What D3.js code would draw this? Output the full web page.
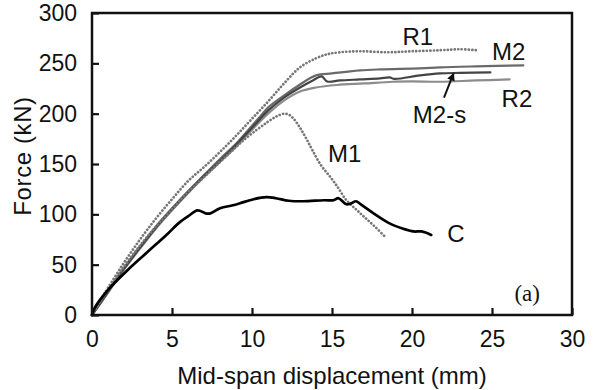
<!DOCTYPE html>
<html>
<head>
<meta charset="utf-8">
<script src="https://cdn.jsdelivr.net/npm/d3@7"></script>
<style>
  body { margin: 0; background: #fff; }
  text { font-family: "Liberation Sans", Arial, sans-serif; fill: #111; }
</style>
</head>
<body>
<script>
// data (displacement mm, force kN)
var xTicks = [0, 5, 10, 15, 20, 25, 30];
var yTicks = [0, 50, 100, 150, 200, 250, 300];

var curveC = [[0,0],[0.17,7],[0.5,15],[1,25],[2.25,45],[3.5,63],[4.75,81],[5.4,91],[6,98],[6.6,104],[7.1,101],[7.4,101],[8,106],[8.8,109],[9.25,111],[10.1,115],[10.9,117],[11.5,116],[12.3,113.5],[13.2,113],[14.5,114],[15.1,114],[15.4,116],[15.9,110],[16.2,111],[16.5,113],[16.8,110],[17.6,101],[18.6,91],[19.4,86],[20.1,83],[20.6,83],[21.2,79.5]];
var curveM1 = [[0,0],[0.5,13],[1,25],[2,48],[3,69],[4,88],[5,105],[6,122],[7,137],[8,152],[8.8,164],[9.5,174],[10.3,184],[11,192],[11.5,197],[12,200],[12.3,199],[12.6,195],[13,186],[13.4,175],[13.8,163],[14.3,149],[14.9,137],[15.4,126],[15.9,114],[16.5,105],[17,97.6],[17.6,89],[18.3,78]];
var curveR1 = [[0,0],[0.5,14],[1,27],[2,52],[3,75],[4,96],[5,115],[6,133],[7,147],[8,162],[9,178],[10,195],[11,212],[12,230],[13,246],[14,255],[14.7,259],[15.5,261],[16.75,262],[18.5,261],[20,262],[21.75,263],[23,264],[24.1,263]];
var curveM2 = [[0,0],[0.5,12],[1,24],[2,47],[3,68],[4,88],[5,106],[6,123],[7,139],[8,155],[9,170],[10,188],[10.5,197],[11,206],[12,218],[13,229],[14,238],[15,240],[16.75,243],[18,244],[20.5,245],[21.75,246],[24,247],[26.96,248]];
var curveM2s = [[0,0],[0.5,11],[1,23],[2,46],[3,67],[4,87],[5,105],[6,122],[7,138],[8,153],[9,169],[10,186],[11,203],[12,216],[13,226],[13.8,233],[14.35,237],[14.7,232],[15.5,233],[16.75,234],[18,235],[18.6,236],[18.9,234.5],[20.5,238],[21.75,240],[23,240.5],[24.9,241]];
var curveR2 = [[0,0],[0.5,11],[1,22],[2,45],[3,66],[4,86],[5,104],[6,121],[7,137],[8,152],[9,167],[10,184],[11,200],[12,213],[13,222],[14,226],[15.3,228.5],[17,230],[18.8,231.7],[20,232],[21.75,231.7],[24,233],[26.1,234]];

var labels = [
  { t: "R1", x: 19.4, y: 268 },
  { t: "M2", x: 25.0, y: 253 },
  { t: "R2", x: 25.6, y: 206.5 },
  { t: "M2-s", x: 20.05, y: 190.5 },
  { t: "M1", x: 14.75, y: 152 },
  { t: "C", x: 22.2, y: 72.5 }
];
var arrowFrom = [22.0, 216], arrowTo = [22.6, 240];

var margin = { top: 13, right: 24, bottom: 75, left: 92 };
var w = 596 - margin.left - margin.right;
var h = 390 - margin.top - margin.bottom;

var svg = d3.select("body").append("svg")
    .attr("width", 596)
    .attr("height", 390);
var g = svg.append("g")
    .attr("transform", "translate(" + margin.left + "," + margin.top + ")");

var x = d3.scaleLinear().domain([0, 30]).range([0, w]);
var y = d3.scaleLinear().domain([0, 300]).range([h, 0]);

// axes with inward ticks
var xAxis = g.append("g")
    .attr("transform", "translate(0," + h + ")")
    .call(d3.axisBottom(x).tickValues(xTicks).tickSize(-7).tickPadding(16).tickSizeOuter(0));
var yAxis = g.append("g")
    .call(d3.axisLeft(y).tickValues(yTicks).tickSize(-7).tickPadding(15).tickSizeOuter(0));
[xAxis, yAxis].forEach(function (a) {
  a.select(".domain").remove();
  a.selectAll("line").attr("stroke", "#111").attr("stroke-width", 2.2);
  a.selectAll("text").style("font-size", "23px").attr("fill", "#111");
});

var smooth = d3.line()
    .x(function (d) { return x(d[0]); })
    .y(function (d) { return y(d[1]); })
    .curve(d3.curveCatmullRom);

var series = [
  { d: curveR2, c: "#8c8c8c", w: 2.2, dash: null },
  { d: curveM2, c: "#6a6a6a", w: 2.2, dash: null },
  { d: curveM2s, c: "#444", w: 2.2, dash: null },
  { d: curveR1, c: "#777", w: 2.7, dash: "0.1,3.4" },
  { d: curveM1, c: "#777", w: 2.7, dash: "0.1,3.4" },
  { d: curveC, c: "#000", w: 2.7, dash: null }
];

g.selectAll("path.curve")
    .data(series)
    .enter()
    .append("path")
    .attr("class", "curve")
    .attr("d", function (s) { return smooth(s.d); })
    .attr("fill", "none")
    .attr("stroke", function (s) { return s.c; })
    .attr("stroke-width", function (s) { return s.w; })
    .attr("stroke-dasharray", function (s) { return s.dash; })
    .attr("stroke-linecap", "round")
    .attr("stroke-linejoin", "round");

// frame
g.append("rect")
    .attr("width", w)
    .attr("height", h)
    .attr("fill", "none")
    .attr("stroke", "#111")
    .attr("stroke-width", 2.5);

// curve labels
g.selectAll("text.lab")
    .data(labels)
    .enter()
    .append("text")
    .attr("class", "lab")
    .attr("x", function (d) { return x(d.x); })
    .attr("y", function (d) { return y(d.y); })
    .style("font-size", "24px")
    .text(function (d) { return d.t; });

// arrow to M2-s
svg.append("defs").append("marker")
    .attr("id", "ah")
    .attr("viewBox", "0 0 10 10")
    .attr("refX", 9).attr("refY", 5)
    .attr("markerWidth", 4).attr("markerHeight", 4)
    .attr("orient", "auto")
    .append("path")
    .attr("d", "M0,0L10,5L0,10z")
    .attr("fill", "#111");
g.append("line")
    .attr("x1", x(arrowFrom[0])).attr("y1", y(arrowFrom[1]))
    .attr("x2", x(arrowTo[0])).attr("y2", y(arrowTo[1]))
    .attr("stroke", "#111")
    .attr("stroke-width", 2)
    .attr("marker-end", "url(#ah)");

g.append("text")
    .attr("x", x(26.4))
    .attr("y", y(14))
    .style("font-family", "'Liberation Serif', 'Times New Roman', serif")
    .style("font-size", "23px")
    .text("(a)");

// axis titles
svg.append("text")
    .attr("x", margin.left + w / 2)
    .attr("y", 384)
    .attr("text-anchor", "middle")
    .style("font-size", "24px")
    .text("Mid-span displacement (mm)");
svg.append("text")
    .attr("transform", "translate(31,156) rotate(-90)")
    .attr("text-anchor", "middle")
    .style("font-size", "24px")
    .style("letter-spacing", "0.6px")
    .text("Force (kN)");
</script>
</body>
</html>
